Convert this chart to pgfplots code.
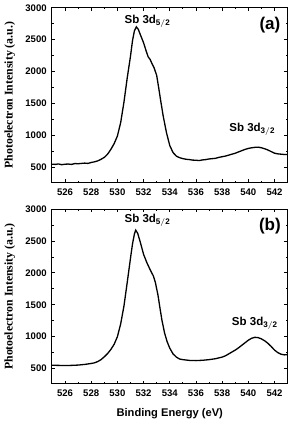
\documentclass[border=0pt]{standalone}
\usepackage{pgfplots}
\pgfplotsset{compat=1.18}
\usepackage{pgfplotstable}
\usepackage{fontspec}
\setmainfont{Liberation Sans}
\newfontfamily\serifb{Liberation Serif}
\pgfplotstableread{
x y
525 548
525.25 545
525.5 552
525.75 540
526 548
526.25 550
526.5 545
526.75 558
527 555
527.25 560
527.5 565
527.75 560
528 575
528.25 585
528.5 600
528.75 625
529 655
529.25 705
529.5 780
529.75 870
530 990
530.25 1200
530.5 1520
530.75 1900
531 2240
531.15 2480
531.3 2640
531.45 2700
531.6 2660
531.75 2580
532 2450
532.2 2320
532.35 2230
532.5 2190
532.65 2120
532.8 2060
533 1940
533.15 1750
533.3 1550
533.5 1300
533.75 1040
534 840
534.25 730
534.5 675
534.75 650
535 635
535.25 625
535.5 620
535.75 612
536 610
536.25 605
536.5 615
536.75 620
537 630
537.25 635
537.5 640
537.75 655
538 665
538.25 675
538.5 690
538.75 705
539 720
539.25 740
539.5 760
539.75 780
540 795
540.25 805
540.5 812
540.75 815
541 805
541.25 790
541.5 770
541.75 745
542 720
542.25 710
542.5 705
542.75 700
543 700
}\dataA
\pgfplotstableread{
x y
525 552
525.5 550
526 548
526.5 550
527 555
527.5 565
528 580
528.25 590
528.5 610
528.75 640
529 685
529.25 735
529.5 800
529.75 880
530 1000
530.25 1200
530.5 1480
530.75 1850
531 2230
531.15 2450
531.3 2610
531.4 2670
531.55 2620
531.75 2480
532 2290
532.25 2160
532.5 2050
532.75 1950
532.9 1850
533.1 1650
533.25 1450
533.4 1260
533.6 1060
533.8 920
534 820
534.25 730
534.5 680
534.75 650
535 640
535.5 628
536 625
536.5 630
537 640
537.5 655
538 680
538.25 700
538.5 730
538.75 760
539 790
539.25 825
539.5 865
539.75 905
540 945
540.25 975
540.5 990
540.75 985
541 965
541.25 935
541.5 895
541.75 845
542 790
542.25 750
542.5 725
542.75 715
543 720
}\dataB
\pgfplotsset{
  xpsaxis/.style={
    scale only axis, width=180pt, height=133.5pt,
    xmin=525, xmax=543, ymin=260, ymax=3000,
    xtick={526,528,...,542}, ytick={500,1000,...,3000},
    minor x tick num=1, minor y tick num=1,
    tick align=inside,
    major tick length=2.5pt, minor tick length=1.3pt,
    axis line style={line width=0.8pt},
    every tick/.style={line width=0.6pt, black},
    tick label style={font=\bfseries\fontsize{7.3}{8}\selectfont},
    /pgf/number format/assume math mode=true,
    /pgf/number format/1000 sep={},
    ylabel={\serifb\bfseries Photoelectron Intensity (a.u.)},
    ylabel style={font=\fontsize{9}{10}\selectfont, yshift=1pt},
    yticklabel style={xshift=-0.5pt},
    xticklabel style={yshift=-1pt},
  }
}
\begin{document}
\begin{tikzpicture}
\begin{axis}[xpsaxis, name=top]
\addplot[black, line width=1pt] table[x=x,y=y]{\dataA};
\node[font=\bfseries\fontsize{8.8}{9}\selectfont] at (axis cs:532.3,2790) {Sb 3d$_{\mathbf{5/2}}$};
\node[font=\bfseries\fontsize{8.8}{9}\selectfont] at (axis cs:540.3,1090) {Sb 3d$_{\mathbf{3/2}}$};
\node[font=\bfseries\fontsize{13}{14}\selectfont] at (rel axis cs:0.925,0.9) {(a)};
\end{axis}
\begin{axis}[xpsaxis, yshift=-153.75pt,
  xlabel={Binding Energy (eV)},
  xlabel style={font=\bfseries\fontsize{8.5}{9}\selectfont, yshift=-2pt}]
\addplot[black, line width=1pt] table[x=x,y=y]{\dataB};
\node[font=\bfseries\fontsize{8.8}{9}\selectfont] at (axis cs:532.3,2830) {Sb 3d$_{\mathbf{5/2}}$};
\node[font=\bfseries\fontsize{8.8}{9}\selectfont] at (axis cs:540.5,1210) {Sb 3d$_{\mathbf{3/2}}$};
\node[font=\bfseries\fontsize{13}{14}\selectfont] at (rel axis cs:0.925,0.905) {(b)};
\end{axis}
\end{tikzpicture}
\end{document}
